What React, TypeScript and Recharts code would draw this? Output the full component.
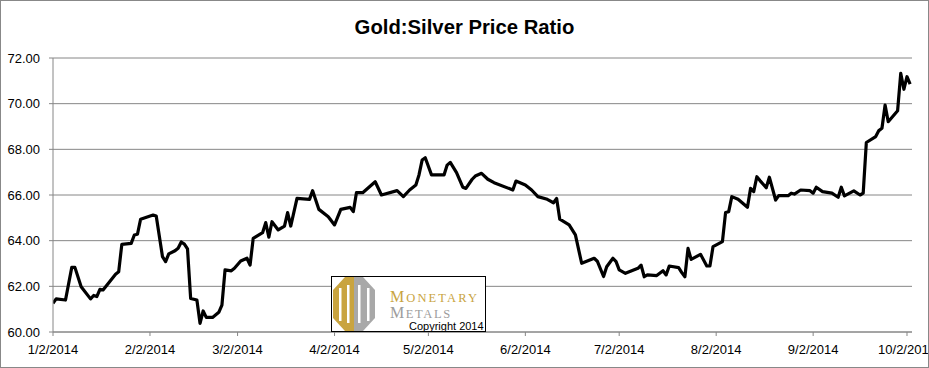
import React from "react";
import { LineChart, Line, XAxis, YAxis, CartesianGrid } from "recharts";

// day offset from 1/2/2014
const dayOffsets = [0,1,4,6,7,9,12,13,14,15,16,20,21,22,25,26,27,28,32,33,35,36,37,39,40,41,42,43,44,46,47,48,49,51,53,54,55,57,58,60,62,63,64,67,68,69,70,72,74,75,76,78,82,83,85,88,90,92,95,96,97,99,103,105,110,112,114,116,117,118,119,121,125,126,127,129,131,132,134,135,137,139,141,147,148,151,153,155,158,160,161,162,165,167,169,173,174,176,177,179,180,181,183,187,188,189,190,193,195,196,197,200,201,202,203,204,207,209,210,211,214,215,216,217,219,222,223,224,225,226,228,229,231,232,235,236,237,239,242,243,244,246,249,251,252,253,256,258,259,260,263,264,265,266,267,270,271,272,273,274];

const ratios = [61.26,61.45,61.40,62.83,62.83,61.98,61.45,61.60,61.55,61.87,61.84,62.53,62.64,63.84,63.88,64.25,64.28,64.94,65.12,65.08,63.30,63.08,63.42,63.56,63.67,63.94,63.85,63.64,61.47,61.40,60.38,60.92,60.64,60.64,60.86,61.18,62.72,62.68,62.79,63.11,63.23,62.93,64.10,64.35,64.79,64.15,64.83,64.47,64.64,65.23,64.64,65.85,65.81,66.19,65.37,65.05,64.69,65.37,65.46,65.27,66.10,66.10,66.58,66.00,66.19,65.93,66.22,66.44,66.88,67.53,67.63,66.88,66.88,67.31,67.43,66.98,66.34,66.29,66.69,66.83,66.95,66.69,66.54,66.22,66.61,66.44,66.22,65.93,65.81,65.66,65.85,64.94,64.69,64.25,63.01,63.23,63.10,62.43,62.86,63.23,63.08,62.72,62.57,62.79,62.93,62.42,62.50,62.47,62.68,62.50,62.89,62.82,62.60,62.42,63.66,63.18,63.40,62.89,62.89,63.74,63.96,65.23,65.27,65.93,65.81,65.46,66.29,66.15,66.80,66.63,66.32,66.78,65.78,65.97,65.97,66.08,66.04,66.22,66.19,66.08,66.34,66.15,66.08,65.90,66.34,65.96,66.18,66.00,66.08,68.30,68.56,68.82,68.92,69.94,69.21,69.69,71.33,70.63,71.18,70.86];

const tickDays = [0, 31, 59, 90, 120, 151, 181, 212, 243, 273];
const tickLabels = ["1/2/2014","2/2/2014","3/2/2014","4/2/2014","5/2/2014","6/2/2014","7/2/2014","8/2/2014","9/2/2014","10/2/2014"];
const yTicks = [60, 62, 64, 66, 68, 70, 72];

const title = "Gold:Silver Price Ratio";

const data = dayOffsets.map((d, i) => ({ day: d, ratio: ratios[i] }));

const FONT = "'Liberation Sans', Arial, sans-serif";
const SERIF = "'Liberation Serif', 'DejaVu Serif', serif";
const GRID = "#868686";

function Logo() {
  return (
    <div style={{ position: "absolute", left: 331, top: 276, width: 155, height: 56, background: "#fff", border: "1px solid #000", boxSizing: "border-box" }}>
      <svg width={153} height={54} style={{ position: "absolute", left: 0, top: 0 }}>
        <polygon points="13,0 22,0 22,54 13,54 1,41 1,13" fill="#C9A43F" />
        <polygon points="22,0 31,0 43,13 43,41 31,54 22,54" fill="#A8A8A8" />
        <rect x={7} y={11} width={2.5} height={33} fill="#fff" />
        <rect x={15} y={8} width={2.5} height={38} fill="#fff" />
        <rect x={26} y={8} width={2.5} height={38} fill="#fff" />
        <rect x={35} y={11} width={2.5} height={33} fill="#fff" />
        <text x={58} y={24.5} fill="#C9A43F" fontFamily={SERIF} letterSpacing={2.1}>
          <tspan fontSize={16}>M</tspan><tspan fontSize={12.5}>ONETARY</tspan>
        </text>
        <text x={58} y={40.5} fill="#9C9C9C" fontFamily={SERIF} letterSpacing={1.6}>
          <tspan fontSize={16}>M</tspan><tspan fontSize={12.5}>ETALS</tspan>
        </text>
        <text x={77} y={53} fill="#000" fontFamily={FONT} fontSize={11}>Copyright 2014</text>
      </svg>
    </div>
  );
}

export default function App() {
  return (
    <div style={{ position: "relative", width: 929, height: 368, overflow: "hidden", background: "#fff" }}>
      <style>{"body{margin:0}"}</style>
      <LineChart width={929} height={368} data={data} margin={{ top: 58, right: 17, left: 0, bottom: 6 }}>
        <CartesianGrid vertical={false} stroke={GRID} strokeWidth={1} />
        <XAxis
          type="number"
          dataKey="day"
          domain={[0, 274.6]}
          ticks={tickDays}
          interval={0}
          allowDataOverflow
          tickFormatter={(d) => tickLabels[tickDays.indexOf(d)]}
          height={30}
          tickSize={4}
          tickMargin={9}
          axisLine={{ stroke: GRID }}
          tickLine={{ stroke: GRID }}
          tick={{ fill: "#000", fontSize: 13, fontFamily: FONT }}
        />
        <YAxis
          type="number"
          domain={[60, 72]}
          ticks={yTicks}
          interval={0}
          width={53}
          tickSize={4}
          tickMargin={9}
          tickFormatter={(v) => Number(v).toFixed(2)}
          axisLine={{ stroke: GRID }}
          tickLine={{ stroke: GRID }}
          tick={{ fill: "#000", fontSize: 13, fontFamily: FONT }}
        />
        <Line type="linear" dataKey="ratio" stroke="#000" strokeWidth={3.2} dot={false} isAnimationActive={false} strokeLinejoin="round" />
      </LineChart>
      <div style={{ position: "absolute", left: 0, top: 15, width: 929, textAlign: "center", fontFamily: FONT, fontWeight: "bold", fontSize: 20.3, color: "#000", lineHeight: "24px" }}>{title}</div>
      <Logo />
      <div style={{ position: "absolute", left: 0, top: 0, width: 929, height: 368, border: "1px solid #888", boxSizing: "border-box", pointerEvents: "none" }} />
    </div>
  );
}
